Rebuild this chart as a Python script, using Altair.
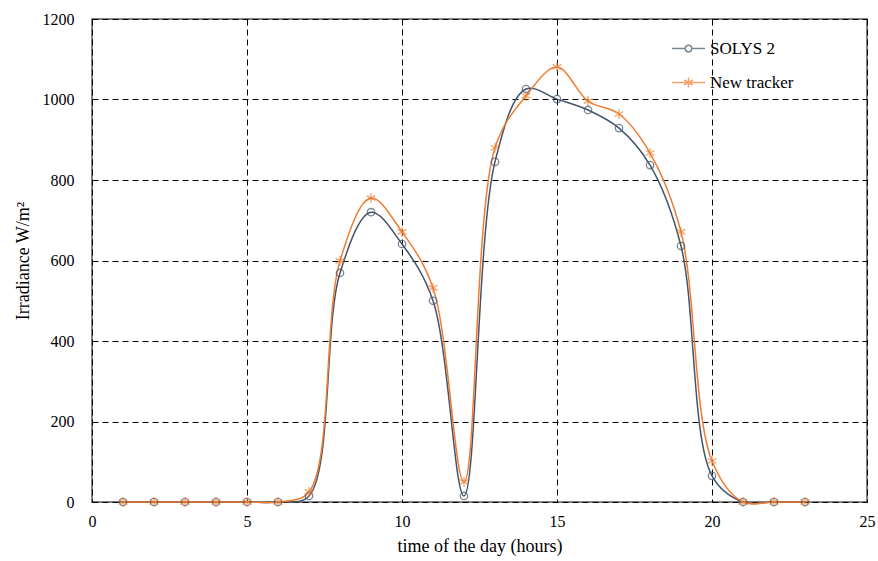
import altair as alt
import pandas as pd

hours = list(range(1, 24))
solys = [0, 0, 0, 0, 0, 0, 15, 569, 720, 641, 500, 15, 845, 1026, 1001, 974, 929, 837, 636, 65, 0, 0, 0]
tracker = [0, 0, 0, 0, 0, 0, 25, 599, 755, 671, 532, 50, 880, 1009, 1081, 996, 964, 867, 671, 102, 0, 0, 0]
series_names = ["SOLYS 2", "New tracker"]
colors = ["#44546A", "#ED7D31"]

df = pd.DataFrame({
    "hour": hours * 2,
    "value": solys + tracker,
    "series": [series_names[0]] * len(hours) + [series_names[1]] * len(hours),
})

FONT = "Liberation Serif"
STAR = "M0,-1L0,1M-0.87,-0.5L0.87,0.5M-0.87,0.5L0.87,-0.5"
CIRCLE = "M-1,0A1,1 0 1,0 1,0A1,1 0 1,0 -1,0Z"
LEG_CIRCLE = "M-1,0L-0.2,0M0.2,0L1,0M-0.2,0A0.2,0.2 0 1,0 0.2,0A0.2,0.2 0 1,0 -0.2,0Z"
LEG_STAR = "M-1,0L1,0M0,-0.3L0,0.3M-0.26,-0.15L0.26,0.15M-0.26,0.15L0.26,-0.15"

xs = alt.Scale(domain=[0, 25], nice=False, zero=False)
ys = alt.Scale(domain=[0, 1200], nice=False)
cs = alt.Scale(domain=series_names, range=colors)
shs = alt.Scale(domain=series_names, range=[LEG_CIRCLE, LEG_STAR])

x = alt.X("hour:Q", scale=xs, title="time of the day (hours)",
          axis=alt.Axis(values=[0, 5, 10, 15, 20, 25], ticks=False, domain=False,
                        grid=True, gridDash=[6, 4], gridColor="#000000", gridWidth=1,
                        labelPadding=11, titlePadding=8, format="d", labelFlush=False))
y = alt.Y("value:Q", scale=ys, title="Irradiance W/m²",
          axis=alt.Axis(values=[0, 200, 400, 600, 800, 1000, 1200], ticks=False, domain=False,
                        grid=True, gridDash=[6, 4], gridColor="#000000", gridWidth=1,
                        labelPadding=18, titlePadding=10, format="d", labelFlush=False))

leg = alt.Legend(orient="none", legendX=579, legendY=12, title=None,
                 symbolSize=1100, labelFont=FONT, labelFontSize=17,
                 labelColor="#000000", rowPadding=8, labelOffset=4,
                 symbolStrokeWidth=1.5)

base = alt.Chart(df)

lines = base.mark_line(interpolate="catmull-rom", strokeWidth=1.5).encode(
    x=x, y=y,
    color=alt.Color("series:N", scale=cs, title=None, legend=leg),
    detail="series:N",
)

pts_s = base.transform_filter(alt.datum.series == series_names[0]).mark_point(
    shape=CIRCLE, size=55, filled=False, strokeWidth=1.3, color=colors[0]
).encode(x="hour:Q", y="value:Q")

pts_t = base.transform_filter(alt.datum.series == series_names[1]).mark_point(
    shape=STAR, size=100, filled=False, strokeWidth=1.3, color=colors[1]
).encode(x="hour:Q", y="value:Q")

legend_layer = base.transform_filter("false").mark_point(filled=False, strokeWidth=1.5).encode(
    x="hour:Q", y="value:Q",
    color=alt.Color("series:N", scale=cs, title=None, legend=leg),
    shape=alt.Shape("series:N", scale=shs, title=None, legend=leg),
)

chart = alt.layer(lines, pts_s, pts_t, legend_layer).properties(
    width=775, height=483,
    autosize=alt.AutoSizeParams(type="none"),
    padding={"left": 92, "top": 19, "right": 11, "bottom": 59},
    background="#ffffff",
).configure_view(
    stroke="#595959", strokeWidth=1.5
).configure_axis(
    labelFont=FONT, labelFontSize=16, labelColor="#000000",
    titleFont=FONT, titleFontSize=18, titleFontWeight="normal", titleColor="#000000",
)

chart.save("out.html", embed_options={"renderer": "svg", "actions": False})
